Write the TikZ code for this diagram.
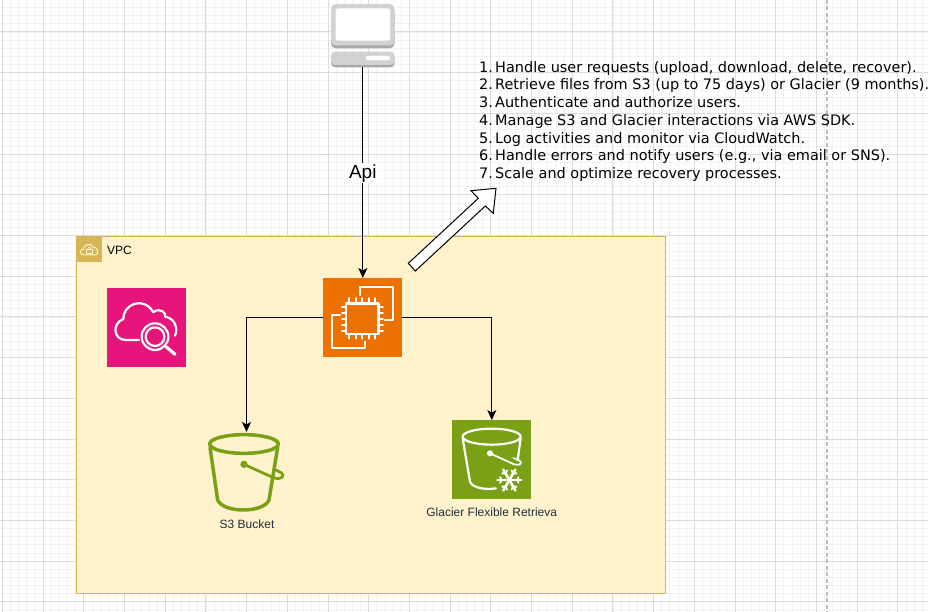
\documentclass[tikz,border=0pt]{standalone}
\usepackage{fontspec}
\setmainfont{Liberation Sans}
\newfontfamily\listfont{DejaVu Sans}
\usetikzlibrary{arrows.meta}
\definecolor{gridminor}{HTML}{F2F2F2}
\definecolor{gridmajor}{HTML}{DCDCDC}
\definecolor{vpcfill}{HTML}{FFF2CC}
\definecolor{vpcline}{HTML}{D6B656}
\definecolor{awspink}{HTML}{E7157B}
\definecolor{awsorange}{HTML}{ED7100}
\definecolor{awsgreen}{HTML}{7AA116}
\definecolor{awsink}{HTML}{232F3E}
\definecolor{pcface}{HTML}{D2D2D2}
\definecolor{pcshade}{HTML}{A9A9A9}
\newcommand{\listrow}[2]{\makebox[16pt][l]{#1}#2}
\tikzset{
  gridthin/.style={draw=gridminor,line width=0.8pt},
  gridthick/.style={draw=gridmajor,line width=1pt},
  iconbox/.style={minimum size=79pt,inner sep=0pt,outer sep=0pt,draw=none},
  ghostbox/.style={inner sep=0pt,outer sep=0pt,draw=none},
  link/.style={draw=black,line width=1pt,-{Stealth[length=10pt,width=9pt,inset=2.5pt]}},
  glyph/.style={draw=white,line width=2.2pt,line cap=round,line join=round},
  bucketline/.style={draw=awsgreen,line width=3.5pt,line cap=round,line join=round},
  caption/.style={font=\fontsize{12}{14}\selectfont,text=awsink,inner sep=0pt},
  zoomgrid/.style={x=0.33333pt,y=-0.33333pt}
}
\begin{document}
\begin{tikzpicture}[x=1pt,y=-1pt]
\useasboundingbox (0,0) rectangle (928,612);
\fill[white] (0,0) rectangle (928,612);
% page grid
\foreach \i in {0,...,114}{\draw[gridthin] ({2.4+8.14*\i},0) -- ++(0,612);}
\foreach \i in {-3,...,74}{\draw[gridthin] (0,{32+8.14*\i}) -- ++(928,0);}
\foreach \i in {-8,...,14}{\draw[gridthick] ({328+40.7*\i},0) -- ++(0,612);}
\foreach \i in {0,...,14}{\draw[gridthick] (0,{32+40.7*\i}) -- ++(928,0);}
\draw[draw=gridmajor!85!black,line width=1.5pt,dash pattern=on 4pt off 2.5pt] (827,0) -- (827,612);

% VPC group
\node[ghostbox,draw=vpcline,fill=vpcfill,line width=1pt,minimum width=589pt,minimum height=356pt] (vpc) at (370.5,415) {};
\fill[vpcline] (76,237) rectangle (101.5,262);
\begin{scope}[zoomgrid,shift={(180,675)}]
  \draw[vpcfill,line width=1pt,line join=round] (72,90) .. controls (58,90) and (58,74) .. (70,72)
    .. controls (72,58) and (92,52) .. (99,66) .. controls (112,64) and (120,88) .. (106,90) -- cycle;
  \draw[vpcfill,line width=0.9pt] (78,74) rectangle (98,86);
  \draw[vpcfill,line width=0.9pt] (83,74) .. controls (83,65) and (93,65) .. (93,74);
\end{scope}
\node[anchor=west,inner sep=0pt,font=\fontsize{12}{14}\selectfont] (vpclabel) at (107,250) {VPC};

% client computer
\node[ghostbox,minimum width=63.5pt,minimum height=63.5pt] (client) at (362.8,35.6) {};
\fill[pcshade,rounded corners=5pt] (331,8) rectangle (394.5,48.4);
\fill[pcface,rounded corners=5pt] (331,4) rectangle (394.5,45.5);
\fill[white,rounded corners=2.5pt] (335.7,8.3) rectangle (390,40.7);
\fill[pcshade,rounded corners=4pt] (331,54) rectangle (394.5,67.3);
\fill[pcface,rounded corners=4pt] (331,51.7) rectangle (394.5,65);
\fill[white,rounded corners=2pt] (365.7,56) rectangle (390,60.3);

% service boxes
\node[iconbox,fill=awspink] (watch) at (146.5,327.5) {};
\node[iconbox,fill=awsorange] (compute) at (362.8,317.5) {};
\node[iconbox,fill=awsgreen] (glacier) at (491.8,459.6) {};
\node[ghostbox,minimum width=74pt,minimum height=78pt] (bucket) at (246.5,471) {};

% CloudWatch glyph
\begin{scope}[zoomgrid,shift={(180,675)}]
  \draw[glyph] (237,345) -- (197,345) .. controls (160,345) and (155,295) .. (190,282)
    .. controls (188,240) and (250,210) .. (280,262)
    .. controls (300,245) and (320,265) .. (315,275)
    .. controls (345,280) and (355,310) .. (345,332);
  \draw[glyph] (285,335) circle [radius=40];
  \draw[glyph] (285,335) circle [radius=28];
  \draw[glyph,line width=3.2pt] (318,365) -- (345,388);
\end{scope}

% EC2 glyph
\begin{scope}[zoomgrid,shift={(930,540)}]
  \draw[glyph] (150,345) -- (150,320) -- (250,320) -- (250,420) -- (225,420);
  \draw[glyph] (90,405) -- (67,405) -- (67,503) -- (165,503) -- (165,485);
  \draw[glyph,line width=2.4pt] (108,370) rectangle (205,462);
  \foreach \p in {118,137,157,176,196}{
    \draw[glyph,line width=1.7pt] (\p,370) -- (\p,354);
    \draw[glyph,line width=1.7pt] (\p,462) -- (\p,476);
  }
  \foreach \p in {380,398,416,434,452}{
    \draw[glyph,line width=1.7pt] (108,\p) -- (96,\p);
    \draw[glyph,line width=1.7pt] (205,\p) -- (219,\p);
  }
\end{scope}

% S3 bucket glyph
\begin{scope}[zoomgrid,shift={(585,1230)}]
  \draw[bucketline] (147,102) ellipse [x radius=103,y radius=28];
  \draw[bucketline] (45,112) -- (68,270) .. controls (85,310) and (205,310) .. (222,270) -- (248,112);
  \fill[awsgreen] (147,163) circle [radius=11];
  \draw[bucketline,line width=2.8pt] (147,163) -- (235,203) .. controls (262,212) and (272,195) .. (258,188) .. controls (250,183) and (243,180) .. (236,178);
\end{scope}
\node[caption] (bucketlabel) at (247,524) {S3 Bucket};

% Glacier glyph
\begin{scope}[zoomgrid,shift={(1260,1230)}]
  \draw[glyph] (215,80) ellipse [x radius=87,y radius=24];
  \draw[glyph] (128,85) -- (150,215) .. controls (158,235) and (200,240) .. (228,235);
  \draw[glyph] (302,85) -- (293,150);
  \fill[white] (210,130) circle [radius=9];
  \draw[glyph,line width=1.7pt] (210,130) -- (280,162) .. controls (305,170) and (310,155) .. (295,150) -- (280,144);
  \foreach \a in {0,60,120}{
    \draw[glyph,line width=2.6pt] ({268+36*cos(\a)},{210+36*sin(\a)}) -- ({268-36*cos(\a)},{210-36*sin(\a)});
  }
  \foreach \a in {0,60,120,180,240,300}{
    \draw[glyph,line width=1.8pt] ({268+23*cos(\a)+10*cos(\a+60)},{210+23*sin(\a)+10*sin(\a+60)}) -- ({268+23*cos(\a)},{210+23*sin(\a)}) -- ({268+23*cos(\a)+10*cos(\a-60)},{210+23*sin(\a)+10*sin(\a-60)});
  }
\end{scope}
\node[caption] (glacierlabel) at (491.7,512.3) {Glacier Flexible Retrieva};

% connectors
\draw[link] (client.south) -- node[pos=0.495,yshift=-1.5pt,fill=white,inner sep=1.5pt,font=\fontsize{19}{21}\selectfont] (apilabel) {Api} (compute.north);
\draw[link] (compute.west) -| (bucket.north);
\draw[link] (compute.east) -| (glacier.north);

% block arrow
\draw[draw=black,fill=white,line width=1pt,line join=miter] (408.3,263.3) -- (478.3,198.3) -- (471,190.7) -- (496,188.3) -- (493.3,213.3) -- (485.3,206) -- (415.3,271) -- cycle;

% list
\node[anchor=north west,align=left,inner sep=0pt,font=\listfont\fontsize{14.45}{17.75}\selectfont] (steps) at (479,61) {%
\listrow{1.}{Handle user requests (upload, download, delete, recover).}\\
\listrow{2.}{Retrieve files from S3 (up to 75 days) or Glacier (9 months).}\\
\listrow{3.}{Authenticate and authorize users.}\\
\listrow{4.}{Manage S3 and Glacier interactions via AWS SDK.}\\
\listrow{5.}{Log activities and monitor via CloudWatch.}\\
\listrow{6.}{Handle errors and notify users (e.g., via email or SNS).}\\
\listrow{7.}{Scale and optimize recovery processes.}};
\end{tikzpicture}
\end{document}
